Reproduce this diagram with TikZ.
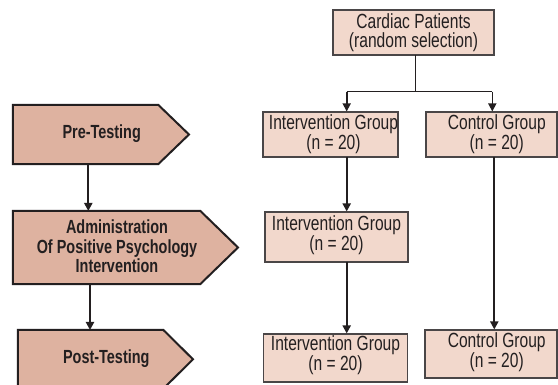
\documentclass[tikz,border=0pt]{standalone}
\usepackage{fontspec}
\setmainfont{Liberation Sans}[FakeStretch=0.76]
\usetikzlibrary{arrows.meta,calc}
\definecolor{ink}{HTML}{231F20}
\definecolor{pentfill}{HTML}{DEB2A0}
\definecolor{boxfill}{HTML}{F2D8CC}
\definecolor{boxline}{HTML}{4A4647}
\tikzset{
  pentbody/.style={draw=none,inner sep=0pt},
  pent/.style={draw=ink,fill=pentfill,line width=2pt,line join=miter},
  boxnode/.style={draw=boxline,fill=boxfill,line width=1.1pt,inner sep=0pt},
  boxtxt/.style={align=center,inner sep=0pt,text=ink,font=\fontsize{20.5}{17}\selectfont},
  cptxtstyle/.style={align=center,inner sep=0pt,text=ink,font=\fontsize{20.5}{19}\selectfont},
  penttxt/.style={align=center,inner sep=0pt,text=ink,font=\bfseries\fontsize{19}{19.3}\selectfont},
  flow/.style={draw=ink,line width=2pt,-{Triangle[length=8pt,width=8pt]}},
  branch/.style={draw=ink,line width=1.3pt},
  branchdrop/.style={draw=ink,line width=1.6pt,-{Triangle[length=8pt,width=8pt]}}
}
\begin{document}
\begin{tikzpicture}[x=1pt,y=-1pt]
\useasboundingbox (0,0) rectangle (558,385);
\clip (0,0) rectangle (558,385);
\fill[white] (0,0) rectangle (558,385);

% left pentagon arrows
\node[pentbody,minimum width=145pt,minimum height=59pt] (pre) at (85.5,134.5) {};
\draw[pent] (pre.north west) -- (pre.north east) -- (189,134.5) -- (pre.south east) -- (pre.south west) -- cycle;
\node[penttxt] (pretxt) at (101.7,133.8) {Pre-Testing};

\node[pentbody,minimum width=187pt,minimum height=73pt] (adm) at (106.5,247.5) {};
\draw[pent] (adm.north west) -- (adm.north east) -- (238,247.5) -- (adm.south east) -- (adm.south west) -- cycle;
\node[penttxt] (admtxt) at (117,246.5) {Administration\\Of Positive Psychology\\Intervention};

\node[pentbody,minimum width=145pt,minimum height=58.6pt] (post) at (90.5,359.3) {};
\draw[pent] (post.north west) -- (post.north east) -- (193,359.3) -- (post.south east) -- (post.south west) -- cycle;
\node[penttxt] (posttxt) at (106.3,358.6) {Post-Testing};

\coordinate (c1a) at (88.3,164);
\coordinate (c1b) at (88.3,211);
\draw[flow] (c1a) -- (c1b);
\coordinate (c2a) at (90,284);
\coordinate (c2b) at (90,330);
\draw[flow] (c2a) -- (c2b);

% right boxes
\node[boxnode,minimum width=161pt,minimum height=45pt] (cp) at (413.5,32.5) {};
\node[cptxtstyle] (cptxt) at (413.5,33) {Cardiac Patients\\(random selection)};

\node[boxnode,minimum width=135pt,minimum height=45pt] (ig1) at (330.5,134.5) {};
\node[boxtxt] (ig1txt) at (333.5,134) {Intervention Group\\(n = 20)};

\node[boxnode,minimum width=131pt,minimum height=45pt] (cg1) at (491.5,134.5) {};
\node[boxtxt] (cg1txt) at (496.8,134) {Control Group\\(n = 20)};

\node[boxnode,minimum width=143pt,minimum height=50pt] (ig2) at (336.5,237) {};
\node[boxtxt] (ig2txt) at (336.5,235.5) {Intervention Group\\(n = 20)};

\node[boxnode,minimum width=144pt,minimum height=48pt] (ig3) at (335.5,358) {};
\node[boxtxt] (ig3txt) at (335.5,355.2) {Intervention Group\\(n = 20)};

\node[boxnode,minimum width=132pt,minimum height=48pt] (cg2) at (491,354) {};
\node[boxtxt] (cg2txt) at (496.7,352.5) {Control Group\\(n = 20)};

% branch from Cardiac Patients
\coordinate (stem) at (415.7,55);
\coordinate (junc) at (415.7,91.7);
\coordinate (jl) at (346.7,91.7);
\coordinate (jr) at (492.3,91.7);
\draw[branch] (stem) -- (junc);
\draw[branch] (jl) -- (jr);
\draw[branchdrop] (jl) -- (jl |- ig1.north);
\draw[branchdrop] (jr) -- (jr |- cg1.north);

% vertical flows
\coordinate (v1) at (346.7,157);
\draw[flow] (v1) -- (v1 |- ig2.north);
\coordinate (v2) at (346.7,262);
\draw[flow] (v2) -- (v2 |- ig3.north);
\coordinate (v3) at (494.3,157);
\draw[flow] (v3) -- (v3 |- cg2.north);
\end{tikzpicture}
\end{document}
